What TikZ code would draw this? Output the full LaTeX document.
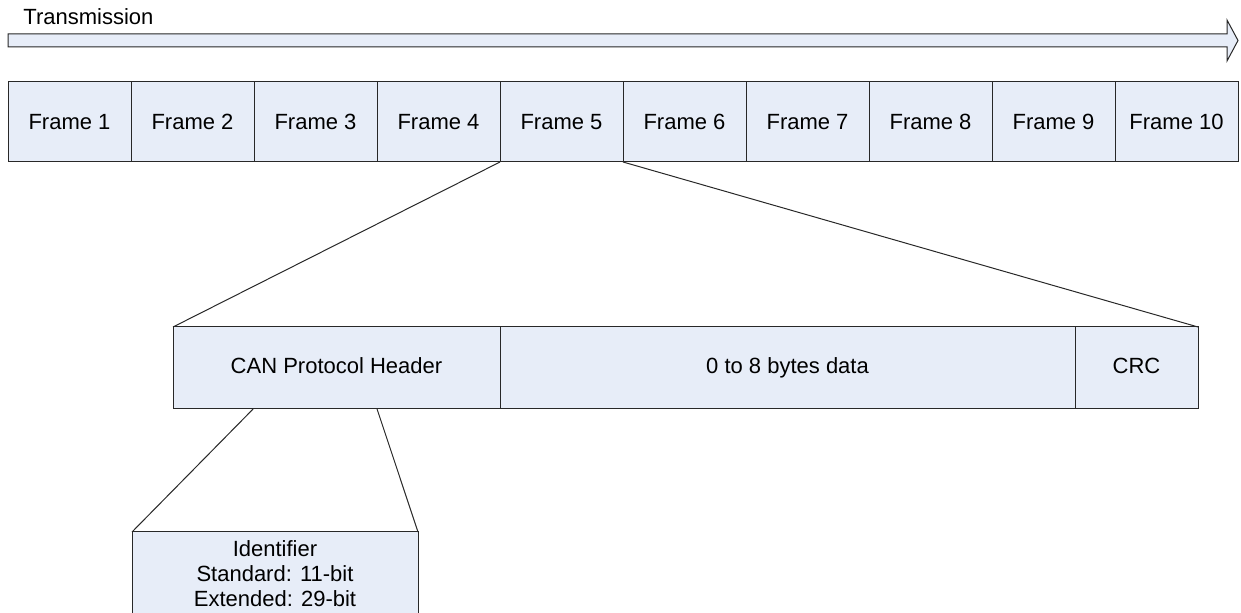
\documentclass[tikz,border=0pt]{standalone}
\usepackage{fontspec}
\setmainfont{Liberation Sans}
\usetikzlibrary{positioning,calc}

\definecolor{boxfill}{RGB}{231,237,248}
\definecolor{boxline}{RGB}{40,40,40}

\tikzset{
  field/.style={draw=boxline, fill=boxfill, line width=0.5pt, inner sep=0pt, outer sep=0pt,
    minimum height=41pt, font=\fontsize{11}{12.5}\selectfont},
  zoomline/.style={draw=boxline, line width=0.5pt}
}

\begin{document}
\begin{tikzpicture}[x=0.5pt,y=-0.5pt]
\useasboundingbox (0,0) rectangle (1241,613);
% transmission arrow
\node[anchor=base west, inner sep=0pt, font=\fontsize{11}{12.5}\selectfont] (tx) at (23,25) {Transmission};
\draw[boxline, fill=boxfill, line width=0.5pt, line join=miter]
  (8,34) -- (1227,34) -- (1227,20) -- (1238,40.5) -- (1227,61) -- (1227,47) -- (8,47) -- cycle;
% frames
\foreach \i in {1,...,10}
  \node[field, minimum width=61.5pt, minimum height=40pt, anchor=north west] (f\i) at ({8+123*(\i-1)},82) {Frame \i};
% CAN frame
\node[field, text height=8pt, text depth=2.3pt, minimum width=163.5pt, anchor=north west] (hdr) at (173,327) {CAN Protocol Header};
\node[field, text height=8pt, text depth=2.3pt, minimum width=287.5pt, anchor=north west] (data) at (hdr.north east) {0 to 8 bytes data};
\node[field, text height=8pt, text depth=2.3pt, minimum width=61.5pt, anchor=north west] (crc) at (data.north east) {CRC};
\draw[zoomline] (f5.south west) -- (hdr.north west);
\draw[zoomline] (f5.south east) -- (crc.north east);
% identifier
\node[field, minimum width=143pt, minimum height=42pt, align=center, anchor=north west] (ident) at (132,532)
  {Identifier\\Standard: 11-bit\\Extended: 29-bit};
\coordinate (hl) at ($(hdr.south west)!0.245!(hdr.south east)$);
\coordinate (hr) at ($(hdr.south west)!0.624!(hdr.south east)$);
\draw[zoomline] (hl) -- (ident.north west);
\draw[zoomline] (hr) -- (ident.north east);
\end{tikzpicture}
\end{document}
